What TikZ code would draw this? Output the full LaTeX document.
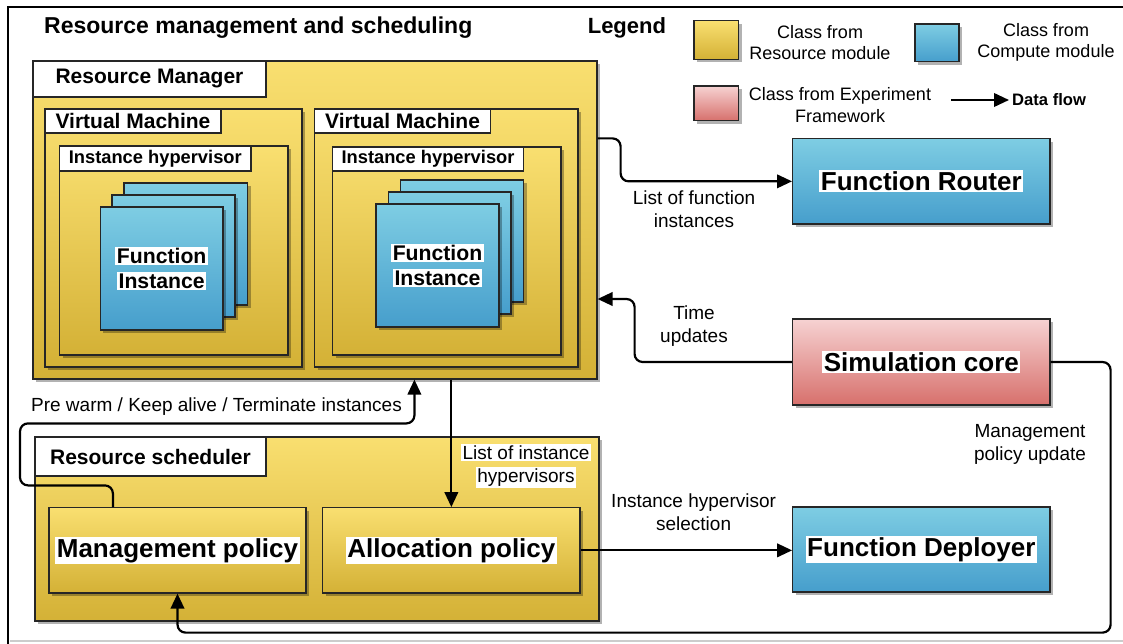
\documentclass[tikz,border=0pt]{standalone}
\usepackage{fontspec}
\setmainfont{Liberation Sans}
\usetikzlibrary{fit,shadows,arrows.meta}
\definecolor{yelT}{RGB}{249,223,112}
\definecolor{yelB}{RGB}{212,177,54}
\definecolor{bluT}{RGB}{126,205,227}
\definecolor{bluB}{RGB}{70,158,204}
\definecolor{redT}{RGB}{246,210,210}
\definecolor{redB}{RGB}{215,112,108}
\newcommand{\wbg}[1]{{\setlength{\fboxsep}{1.5pt}\colorbox{white}{#1}}}
\begin{document}
\begin{tikzpicture}[x=1pt,y=1pt,
  boxbase/.style={draw=black!85, line width=1.2pt, inner sep=0pt,
    drop shadow={shadow xshift=3pt, shadow yshift=-3pt, opacity=0.3, fill=black}},
  ybox/.style={boxbase, top color=yelT, bottom color=yelB},
  bbox/.style={boxbase, top color=bluT, bottom color=bluB},
  rbox/.style={boxbase, top color=redT, bottom color=redB},
  tagbox/.style={draw=black!85, line width=1.2pt, fill=white, inner sep=0pt},
  flow/.style={line width=2.2pt, -{Triangle[length=15pt,width=13.5pt]}, rounded corners=8pt},
  bigtxt/.style={font=\fontsize{26}{31}\selectfont\bfseries, inner sep=0pt},
  hdr/.style={font=\fontsize{21}{25}\selectfont\bfseries, inner sep=0pt},
  ihtxt/.style={font=\fontsize{18.3}{22}\selectfont\bfseries, inner sep=0pt},
  fitxt/.style={font=\fontsize{21.2}{25}\selectfont\bfseries, inner sep=0pt, align=center},
  elab/.style={font=\fontsize{19}{23}\selectfont, inner sep=0pt, align=center},
  leg/.style={font=\fontsize{18}{21.6}\selectfont, inner sep=0pt, align=center},
  ttl/.style={font=\fontsize{23}{27}\selectfont\bfseries, inner sep=0pt, anchor=west},
]
\useasboundingbox (0,0) rectangle (1123,-644);
% outer frame
\draw[line width=2.5pt] (8,-660) -- (8,-7) -- (1140,-7);
\draw[black!20, line width=1.5pt] (10,-641) -- (1123,-641);

% titles
\node[ttl] (title) at (44,-28) {Resource management and scheduling};
\node[ttl, font=\fontsize{22}{27}\selectfont\bfseries] (legend) at (587.6,-28) {Legend};

% legend
\node[ybox, fit={(694,-20.7) (738.6,-59.3)}] (legy) {};
\node[leg] (legyt) at (820,-42.5) {Class from\\Resource module};
\node[bbox, fit={(915,-24) (959,-61.7)}] (legb) {};
\node[leg] (legbt) at (1046,-42.5) {Class from\\Compute module};
\node[rbox, fit={(694,-86) (738.6,-120.7)}] (legr) {};
\node[leg] (legrt) at (840,-105) {Class from Experiment\\Framework};
\coordinate (dfa) at (951,-100);
\coordinate (dfb) at (1009,-100);
\draw[flow] (dfa) -- (dfb);
\node[font=\fontsize{16.6}{20}\selectfont\bfseries, inner sep=0pt, anchor=west] (dft) at (1012,-100) {Data flow};

% Resource manager
\node[ybox, fit={(33,-61) (597,-379)}] (rm) {};
\node[tagbox, fit={(33,-61) (266,-97)}] (rmtag) {};
\node[hdr] (rmtxt) at (rmtag) {Resource Manager};

\node[ybox, fit={(45,-109) (302,-367)}] (vm1) {};
\node[tagbox, fit={(45,-109) (221,-133)}] (vm1tag) {};
\node[hdr] (vm1txt) at (vm1tag) {Virtual Machine};
\node[ybox, fit={(314.5,-109) (578,-367)}] (vm2) {};
\node[tagbox, fit={(314.5,-109) (490.6,-133)}] (vm2tag) {};
\node[hdr] (vm2txt) at (vm2tag) {Virtual Machine};

\node[ybox, fit={(59.6,-146) (288,-355)}] (ih1) {};
\node[tagbox, fit={(59.6,-146) (251,-171)}] (ih1tag) {};
\node[ihtxt] (ih1txt) at (ih1tag) {Instance hypervisor};
\node[ybox, fit={(332.6,-147) (561,-355)}] (ih2) {};
\node[tagbox, fit={(332.6,-147) (523.5,-171)}] (ih2tag) {};
\node[ihtxt] (ih2txt) at (ih2tag) {Instance hypervisor};

\node[bbox, fit={(124,-183) (247.5,-305)}] (fi1a) {};
\node[bbox, fit={(112,-195) (235,-317)}] (fi1b) {};
\node[bbox, fit={(100.3,-207) (223,-330)}] (fi1c) {};
\node[fitxt] (fi1t) at (fi1c) {\wbg{Function}\\\wbg{Instance}};
\node[bbox, fit={(400.7,-180) (523.5,-302)}] (fi2a) {};
\node[bbox, fit={(388.5,-192) (511,-314)}] (fi2b) {};
\node[bbox, fit={(376,-204) (499,-327)}] (fi2c) {};
\node[fitxt] (fi2t) at (fi2c) {\wbg{Function}\\\wbg{Instance}};

% Resource scheduler
\node[ybox, fit={(35,-437) (599,-621)}] (rs) {};
\node[tagbox, fit={(35,-437) (266,-476)}] (rstag) {};
\node[hdr] (rstxt) at (rstag) {Resource scheduler};
\node[ybox, fit={(49,-507.7) (306,-593)}] (mp) {};
\node[bigtxt] (mpt) at (mp) {\wbg{Management policy}};
\node[ybox, fit={(322.7,-507.7) (580,-593)}] (ap) {};
\node[bigtxt] (apt) at (ap) {\wbg{Allocation policy}};

% right column
\node[bbox, fit={(792.6,-138.7) (1050,-224)}] (fr) {};
\node[bigtxt] (frt) at (fr) {\wbg{Function Router}};
\node[rbox, fit={(792.6,-319) (1050,-405)}] (sc) {};
\node[bigtxt] (sct) at (sc) {\wbg{Simulation core}};
\node[bbox, fit={(792.7,-507) (1050,-592)}] (fd) {};
\node[bigtxt] (fdt) at (fd) {\wbg{Function Deployer}};

% connectors
\draw[flow] ([yshift=-78pt]rm.north east) -- ++(23,0) |- (fr.west);
\node[elab] (l1) at (694,-209.5) {List of function\\instances};

\coordinate (tu) at ([yshift=-79pt]rm.east);
\draw[flow] (sc.west) -| ([xshift=37pt]tu) -- (tu);
\node[elab] (l2) at (694,-326) {Time\\updates};

\draw[flow] (sc.east) -- ++(60,0) |- ([yshift=-39pt]mp.south) -- (mp.south);
\node[elab] (l3) at (1030,-444) {Management\\policy update};

\coordinate (mpn) at ([xshift=64.5pt]mp.north west);
\coordinate (rmb) at ([xshift=99.4pt]rm.south);
\draw[flow] (mpn) -- ++(0,21.7) -| ++(-92.9,62) -| (rmb);
\node[elab] (l4) at (216.5,-406.7) {Pre warm / Keep alive / Terminate instances};

\draw[flow] (ap.north |- rm.south) -- (ap.north);
\node[elab] (l5) at (526,-466) {\wbg{List of instance}\\\wbg{hypervisors}};

\draw[flow] (ap.east) -- (fd.west |- ap.east);
\node[elab] (l6) at (693.6,-512) {Instance hypervisor\\selection};
\end{tikzpicture}
\end{document}
